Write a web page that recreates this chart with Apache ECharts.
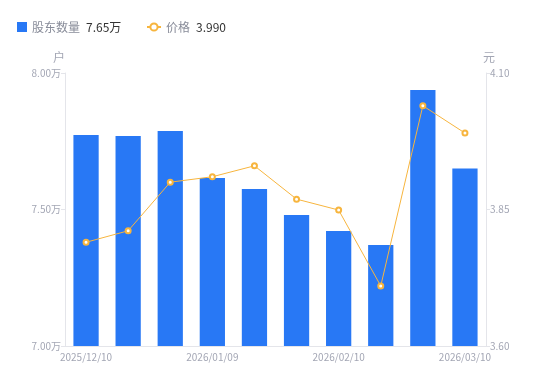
<!DOCTYPE html>
<html><head><meta charset="utf-8">
<script src="https://cdn.jsdelivr.net/npm/echarts@6/dist/echarts.min.js"></script>
<style>html,body{margin:0;padding:0;background:#fff}#c{width:550px;height:381px}</style>
</head><body><div id="c"></div>
<script>
const categories = ['2025/12/10','2025/12/20','2025/12/31','2026/01/09','2026/01/20','2026/01/30','2026/02/10','2026/02/20','2026/02/28','2026/03/10'];
const holders = [7.773, 7.769, 7.788, 7.615, 7.575, 7.480, 7.421, 7.370, 7.938, 7.650];
const prices = [3.790, 3.811, 3.900, 3.910, 3.930, 3.869, 3.849, 3.710, 4.040, 3.990];
const leftTicks = {min: 7.0, max: 8.0, interval: 0.5};
const rightTicks = {min: 3.6, max: 4.1, interval: 0.25};

const chart = echarts.init(document.getElementById('c'));
const font = '"Noto Sans CJK SC", "Noto Sans", sans-serif';
const legendText = {fontSize: 12, color: '#888c99', rich: {v: {color: '#333', fontSize: 12, padding: [0,0,0,6]}}};
chart.setOption({
  animation: false,
  textStyle: {fontFamily: font},
  legend: [{
    left: 12, top: 16, itemWidth: 10, itemHeight: 10,
    data: [{name: '股东数量', icon: 'rect'}],
    textStyle: legendText,
    formatter: n => n + '{v|' + holders[holders.length-1].toFixed(2) + '万}'
  }, {
    left: 141, top: 16, itemWidth: 14, itemHeight: 9,
    data: [{name: '价格'}],
    textStyle: legendText,
    formatter: n => n + '{v|' + prices[prices.length-1].toFixed(3) + '}'
  }],
  grid: {left: 65, right: 64, top: 73, bottom: 35},
  xAxis: {
    type: 'category', data: categories,
    axisLine: {lineStyle: {color: '#e4e5ea'}},
    axisTick: {show: false},
    axisLabel: {interval: 2, color: '#a3a6b4', fontSize: 10, margin: 6},
  },
  yAxis: [{
    type: 'value', min: leftTicks.min, max: leftTicks.max, interval: leftTicks.interval,
    name: '户', nameTextStyle: {color: '#a3a6b4', fontSize: 12, padding: [0, 12, 0, 0]}, nameGap: 10,
    axisLine: {show: true, lineStyle: {color: '#e4e5ea'}},
    axisTick: {show: true, length: 4, lineStyle: {color: '#e4e5ea'}},
    splitLine: {show: false},
    axisLabel: {color: '#a3a6b4', fontSize: 10, margin: 4, formatter: v => v.toFixed(2) + '万'}
  }, {
    type: 'value', min: rightTicks.min, max: rightTicks.max, interval: rightTicks.interval,
    name: '元', nameTextStyle: {color: '#a3a6b4', fontSize: 12, padding: [0, 0, 0, 6]}, nameGap: 10,
    axisLine: {show: true, lineStyle: {color: '#e4e5ea'}},
    axisTick: {show: true, length: 4, lineStyle: {color: '#e4e5ea'}},
    splitLine: {show: false},
    axisLabel: {color: '#a3a6b4', fontSize: 10, margin: 4, formatter: v => v.toFixed(2)}
  }],
  series: [{
    name: '股东数量', type: 'bar', data: holders, barWidth: '60%', yAxisIndex: 0,
    itemStyle: {color: '#2878f5'}
  }, {
    name: '价格', type: 'line', data: prices, yAxisIndex: 1,
    symbol: 'emptyCircle', symbolSize: 5,
    lineStyle: {color: '#f7b53e', width: 1},
    itemStyle: {color: '#f7b53e', borderWidth: 2}
  }]
});
</script></body></html>
